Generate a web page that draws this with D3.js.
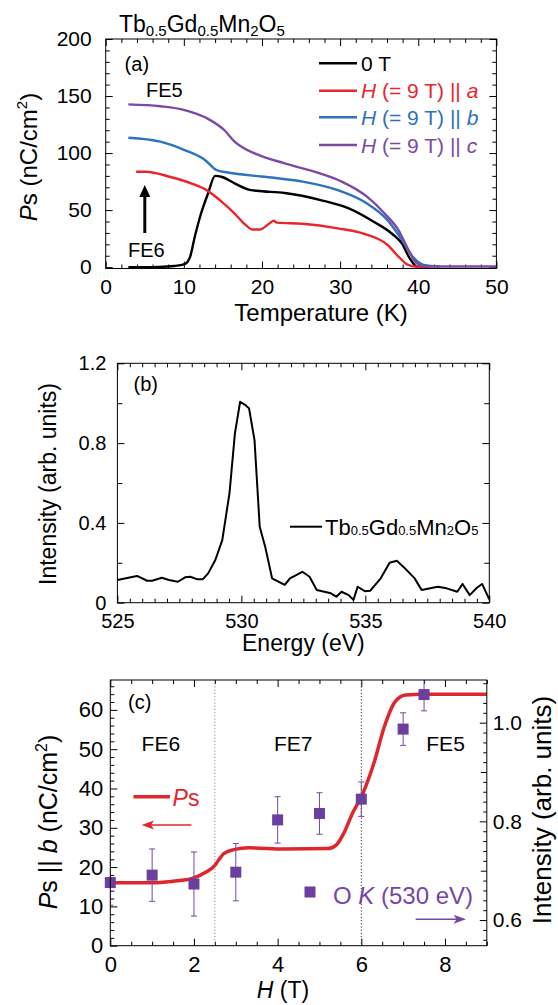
<!DOCTYPE html>
<html>
<head>
<meta charset="utf-8">
<script src="https://cdn.jsdelivr.net/npm/d3@7"></script>
<style>
  body { margin: 0; background: #fff; }
  svg { display: block; }
</style>
</head>
<body>
<svg id="fig"></svg>
<script>
const FONT = '"Liberation Sans", Arial, Helvetica, sans-serif';

// ---------- (a) Ps vs temperature ----------
const tempZero = [2.9, 6, 8.8, 10.1, 10.8, 11.4, 12.2, 13.1, 14.0, 14.9, 16.5, 18.3, 19.3, 22.9, 27.5, 31.1, 34.3, 36.6, 37.9, 38.8, 39.8, 40.6];
const psZero   = [0, 0, 1, 2.6, 9, 26.6, 47, 64.6, 80, 79, 73.4, 68, 67, 65, 58.8, 51.5, 39.8, 29.5, 20.8, 9, 0.5, 0];
const tempA = [3.9, 5.1, 8.3, 11.1, 12.9, 14.9, 16.5, 17.9, 18.8, 19.7, 20.9, 21.5, 21.9, 25.2, 29.7, 32.9, 36.1, 37.5, 38.6, 39.8, 41.6];
const psA   = [83.6, 83.6, 79, 73, 67.5, 57, 47, 37, 33, 33, 38, 40.6, 39, 38, 34, 29.5, 19.3, 9, 2.3, 0.3, 0];
const tempB = [2.9, 7.0, 10.1, 12.7, 14.2, 15.6, 20.6, 25.2, 29.7, 33.4, 36.1, 37.9, 39.3, 40.7, 42.8];
const psB   = [113.4, 110, 102.6, 94, 85, 83, 79, 75, 67.5, 56, 41, 24, 9, 2, 0.5];
const tempC = [2.9, 7.0, 10.1, 13.1, 15.2, 16.5, 19.3, 22.9, 27.5, 30.2, 33.4, 35.7, 37.5, 38.6, 39.8, 41.1, 50];
const psC   = [142.7, 141, 137.7, 130, 120, 110, 99, 91, 82, 75, 62, 47, 32, 17, 3.5, 0.5, 0.5];
const tempTicks = [0, 10, 20, 30, 40, 50];
const psTicks = [0, 50, 100, 150, 200];

// ---------- (b) O K-edge spectrum ----------
const energy = [525.0, 525.79, 526.2, 526.4, 526.79, 527.08, 527.44, 527.73, 527.94, 528.23, 528.44, 528.66, 528.95, 529.23, 529.52, 529.74, 529.95, 530.17, 530.31, 530.53, 530.74, 530.96, 531.24, 531.75, 531.96, 532.46, 532.75, 533.04, 533.61, 533.83, 534.04, 534.33, 534.52, 534.69, 534.98, 535.2, 535.62, 535.98, 536.27, 536.56, 536.99, 537.27, 537.92, 538.28, 538.71, 538.92, 539.21, 539.5, 539.71, 540.0];
const intensity = [0.114, 0.134, 0.110, 0.110, 0.125, 0.114, 0.105, 0.127, 0.130, 0.117, 0.117, 0.147, 0.214, 0.314, 0.548, 0.849, 1.007, 0.99, 0.974, 0.815, 0.381, 0.281, 0.122, 0.089, 0.122, 0.155, 0.13, 0.064, 0.047, 0.03, 0.055, 0.038, 0.014, 0.08, 0.058, 0.06, 0.122, 0.2, 0.21, 0.177, 0.122, 0.064, 0.08, 0.072, 0.055, 0.094, 0.038, 0.075, 0.094, 0.017];
const energyTicks = [525, 530, 535, 540];
const intTicks = [0, 0.4, 0.8, 1.2];

// ---------- (c) field dependence ----------
const fieldFit = [0, 1.02, 1.5, 1.96, 2.3, 2.47, 2.72, 2.98, 3.3, 4.17, 5.19, 5.4, 5.58, 5.79, 6.04, 6.3, 6.55, 6.81, 7.06, 7.5, 9];
const psFit    = [16, 16, 16.4, 17.1, 18.8, 20.1, 23.5, 24.5, 24.9, 24.6, 24.7, 25.6, 28.6, 33.7, 38.8, 46.4, 55.7, 62.1, 63.8, 64, 64];
const fieldOK = [0, 1, 2, 3, 4, 5, 6, 7, 7.5];
const intOK   = [0.676, 0.691, 0.673, 0.697, 0.803, 0.816, 0.845, 0.987, 1.057];
const errOK   = [0.046, 0.053, 0.065, 0.058, 0.047, 0.042, 0.035, 0.033, 0.033];
const phaseBounds = [2.5, 6];
const fieldTicks = [0, 2, 4, 6, 8];
const psFitTicks = [0, 10, 20, 30, 40, 50, 60];
const intOKTicks = [0.6, 0.8, 1.0];

const red = '#e8262b', blue = '#2c73bf', purple = '#7a4aa5';
const redC = '#e0262d', purpleC = '#6b3fa0', purpleText = '#7646a6';

const svg = d3.select('#fig').attr('width', 558).attr('height', 1005)
  .attr('font-family', FONT);

function steps(a, b, step) {
  const n = Math.round((b - a) / step);
  return d3.range(n + 1).map(i => +(a + i * step).toFixed(6));
}

function tickSet(g, gen, values, size, at, fmt, fs, pad) {
  const ax = g.append('g').attr('transform', at)
    .call(gen.tickValues(values).tickSize(-size).tickPadding(pad || 3)
      .tickFormat(fmt || (() => '')));
  ax.select('.domain').remove();
  ax.attr('font-family', FONT).attr('font-size', fs || 10);
  ax.selectAll('text').attr('fill', '#000');
  ax.selectAll('line').attr('stroke', '#000');
  return ax;
}

function frame(g, x, y) {
  const [l, r] = x.range(), [b, t] = y.range();
  g.append('rect').attr('x', l).attr('y', t).attr('width', r - l).attr('height', b - t)
    .attr('fill', 'none').attr('stroke', '#000').attr('stroke-width', 1);
}

function clip(id, x, y) {
  const [l, r] = x.range(), [b, t] = y.range();
  svg.append('clipPath').attr('id', id).append('rect')
    .attr('x', l).attr('y', t).attr('width', r - l).attr('height', b - t);
}

// ===================== panel (a) =====================
const xA = d3.scaleLinear().domain([0, 50]).range([105.7, 496.4]);
const yA = d3.scaleLinear().domain([-1.2, 200]).range([268.5, 39]);
const gA = svg.append('g');

tickSet(gA, d3.axisBottom(xA), tempTicks, 7, `translate(0,${yA.range()[0]})`, d3.format('d'), 21, 11);
tickSet(gA, d3.axisBottom(xA), steps(0, 50, 2).filter(v => v % 10), 4, `translate(0,${yA.range()[0]})`);
tickSet(gA, d3.axisTop(xA), tempTicks, 7, `translate(0,${yA.range()[1]})`);
tickSet(gA, d3.axisTop(xA), steps(0, 50, 2).filter(v => v % 10), 4, `translate(0,${yA.range()[1]})`);
tickSet(gA, d3.axisLeft(yA), psTicks, 7, `translate(${xA.range()[0]},0)`, d3.format('d'), 21, 14);
tickSet(gA, d3.axisLeft(yA), steps(0, 200, 10).filter(v => v % 50), 4, `translate(${xA.range()[0]},0)`);
tickSet(gA, d3.axisRight(yA), psTicks, 7, `translate(${xA.range()[1]},0)`);
tickSet(gA, d3.axisRight(yA), steps(0, 200, 10).filter(v => v % 50), 4, `translate(${xA.range()[1]},0)`);

clip('clipA', xA, yA);
const lineA = d3.line().x(d => xA(d[0])).y(d => yA(d[1])).curve(d3.curveMonotoneX);
const seriesA = [
  { t: tempZero, p: psZero, color: '#000' },
  { t: tempA, p: psA, color: red },
  { t: tempB, p: psB, color: blue },
  { t: tempC, p: psC, color: purple }
];
gA.append('g').attr('clip-path', 'url(#clipA)').selectAll('path').data(seriesA).join('path')
  .attr('d', s => lineA(d3.zip(s.t, s.p)))
  .attr('fill', 'none').attr('stroke', s => s.color).attr('stroke-width', 2.4)
  .attr('stroke-linejoin', 'round');
frame(gA, xA, yA);

// legend (a)
const legA = [
  { axis: null, color: '#000', y: 63.3 },
  { axis: 'a', color: red, y: 90.7 },
  { axis: 'b', color: blue, y: 117.3 },
  { axis: 'c', color: purple, y: 145 }
];
legA.forEach(d => {
  gA.append('line').attr('x1', 319).attr('x2', 357).attr('y1', d.y).attr('y2', d.y)
    .attr('stroke', d.color).attr('stroke-width', 2.4);
  const t = gA.append('text').attr('x', 361).attr('y', d.y + 7.5)
    .attr('font-size', 21).attr('fill', d.color);
  if (d.axis === null) { t.text('0 T'); return; }
  t.append('tspan').attr('font-style', 'italic').text('H');
  t.append('tspan').text(' (= 9 T) || ');
  t.append('tspan').attr('font-style', 'italic').text(d.axis);
});

// title and annotations (a)
const title = svg.append('text').attr('x', 119).attr('y', 31.7).attr('font-size', 23);
[['Tb', 0], ['0.5', 1], ['Gd', 0], ['0.5', 1], ['Mn', 0], ['2', 1], ['O', 0], ['5', 1]].forEach(([s, sub], i, arr) => {
  const prev = i > 0 ? arr[i - 1][1] : 0;
  title.append('tspan').attr('font-size', sub ? 15 : 23)
    .attr('dy', sub && !prev ? 4 : (!sub && prev ? -4 : 0)).text(s);
});
gA.append('text').attr('x', 124.6).attr('y', 71).attr('font-size', 20).text('(a)');
gA.append('text').attr('x', 146).attr('y', 97).attr('font-size', 20).text('FE5');
gA.append('text').attr('x', 128).attr('y', 257).attr('font-size', 20).text('FE6');
gA.append('line').attr('x1', 144.8).attr('x2', 144.8).attr('y1', 233).attr('y2', 194)
  .attr('stroke', '#000').attr('stroke-width', 3);
gA.append('path').attr('d', 'M144.8,185 L150.3,197 L139.3,197 Z').attr('fill', '#000');

gA.append('text').attr('x', 321).attr('y', 320.5).attr('text-anchor', 'middle')
  .attr('font-size', 24).text('Temperature (K)');
const ylA = gA.append('text').attr('transform', 'translate(37,157) rotate(-90)')
  .attr('text-anchor', 'middle').attr('font-size', 24);
ylA.append('tspan').attr('font-style', 'italic').text('P');
ylA.append('tspan').text('s (nC/cm');
ylA.append('tspan').attr('font-size', 15).attr('dy', -10).text('2');
ylA.append('tspan').attr('dy', 10).text(')');

// ===================== panel (b) =====================
const xB = d3.scaleLinear().domain([525, 540]).range([117.4, 489.3]);
const yB = d3.scaleLinear().domain([0, 1.2]).range([602.7, 363.3]);
const gB = svg.append('g');
const fmtB = d => d === 0 ? '0' : d3.format('.1f')(d);

tickSet(gB, d3.axisBottom(xB), energyTicks, 7, `translate(0,${yB.range()[0]})`, d3.format('d'), 20, 11);
tickSet(gB, d3.axisBottom(xB), steps(525, 540, 0.5).filter(v => v % 5), 4, `translate(0,${yB.range()[0]})`);
tickSet(gB, d3.axisTop(xB), energyTicks, 7, `translate(0,${yB.range()[1]})`);
tickSet(gB, d3.axisTop(xB), steps(525, 540, 0.5).filter(v => v % 5), 4, `translate(0,${yB.range()[1]})`);
tickSet(gB, d3.axisLeft(yB), intTicks, 7, `translate(${xB.range()[0]},0)`, fmtB, 20, 11);
tickSet(gB, d3.axisLeft(yB), [0.2, 0.6, 1.0], 5, `translate(${xB.range()[0]},0)`);
tickSet(gB, d3.axisRight(yB), intTicks, 7, `translate(${xB.range()[1]},0)`);
tickSet(gB, d3.axisRight(yB), [0.2, 0.6, 1.0], 5, `translate(${xB.range()[1]},0)`);

const lineB = d3.line().x(d => xB(d[0])).y(d => yB(d[1]));
gB.append('path').datum(d3.zip(energy, intensity)).attr('d', lineB)
  .attr('fill', 'none').attr('stroke', '#000').attr('stroke-width', 2).attr('stroke-linejoin', 'round');
frame(gB, xB, yB);

gB.append('text').attr('x', 133.5).attr('y', 391).attr('font-size', 20).text('(b)');
gB.append('line').attr('x1', 290).attr('x2', 322).attr('y1', 526.7).attr('y2', 526.7)
  .attr('stroke', '#000').attr('stroke-width', 2);
const legB = gB.append('text').attr('x', 325).attr('y', 534.5).attr('font-size', 22);
[['Tb', 0], ['0.5', 1], ['Gd', 0], ['0.5', 1], ['Mn', 0], ['2', 1], ['O', 0], ['5', 1]].forEach(([s, sub]) => {
  legB.append('tspan').attr('font-size', sub ? 13 : 22).text(s);
});
gB.append('text').attr('x', 303.4).attr('y', 651).attr('text-anchor', 'middle')
  .attr('font-size', 23).text('Energy (eV)');
gB.append('text').attr('transform', 'translate(56,484) rotate(-90)')
  .attr('text-anchor', 'middle').attr('font-size', 23).text('Intensity (arb. units)');

// ===================== panel (c) =====================
const xC = d3.scaleLinear().domain([0, 9]).range([110.3, 486.8]);
const yCL = d3.scaleLinear().domain([0, 67.6]).range([945.7, 680]);
const yCR = d3.scaleLinear().domain([0.548, 1.0865]).range([945.7, 680]);
const gC = svg.append('g');

tickSet(gC, d3.axisBottom(xC), fieldTicks, 7, `translate(0,${yCL.range()[0]})`, d3.format('d'), 22, 11);
tickSet(gC, d3.axisBottom(xC), steps(0, 9, 0.5).filter(v => v % 2), 4, `translate(0,${yCL.range()[0]})`);
tickSet(gC, d3.axisTop(xC), fieldTicks, 7, `translate(0,${yCL.range()[1]})`);
tickSet(gC, d3.axisTop(xC), steps(0, 9, 0.5).filter(v => v % 2), 4, `translate(0,${yCL.range()[1]})`);
tickSet(gC, d3.axisLeft(yCL), psFitTicks, 7, `translate(${xC.range()[0]},0)`, d3.format('d'), 22, 7);
tickSet(gC, d3.axisLeft(yCL), steps(0, 66, 2).filter(v => v % 10), 4, `translate(${xC.range()[0]},0)`);
tickSet(gC, d3.axisRight(yCR), intOKTicks, 7, `translate(${xC.range()[1]},0)`, d3.format('.1f'), 21, 6);
tickSet(gC, d3.axisRight(yCR), [0.7, 0.9], 6, `translate(${xC.range()[1]},0)`);
tickSet(gC, d3.axisRight(yCR), steps(0.56, 1.08, 0.02).filter(v => Math.abs(v * 10 - Math.round(v * 10)) > 1e-6), 3.5, `translate(${xC.range()[1]},0)`);

// phase boundaries
gC.selectAll('line.bound').data(phaseBounds).join('line').attr('class', 'bound')
  .attr('x1', d => xC(d)).attr('x2', d => xC(d))
  .attr('y1', yCL.range()[1]).attr('y2', yCL.range()[0])
  .attr('stroke', (d, i) => i === 0 ? '#888' : '#333').attr('stroke-width', 1)
  .attr('stroke-dasharray', '1.2,2');

clip('clipC', xC, yCL);
const lineC = d3.line().x(d => xC(d[0])).y(d => yCL(d[1])).curve(d3.curveMonotoneX);
gC.append('path').datum(d3.zip(fieldFit, psFit)).attr('d', lineC).attr('clip-path', 'url(#clipC)')
  .attr('fill', 'none').attr('stroke', redC).attr('stroke-width', 3.5);

// O K intensity with error bars
const pts = d3.zip(fieldOK, intOK, errOK);
const gErr = gC.append('g').attr('clip-path', 'url(#clipC)')
  .attr('stroke', purpleText).attr('stroke-width', 1);
gErr.selectAll('line.bar').data(pts).join('line').attr('class', 'bar')
  .attr('x1', d => xC(d[0])).attr('x2', d => xC(d[0]))
  .attr('y1', d => yCR(d[1] - d[2])).attr('y2', d => yCR(d[1] + d[2]));
gErr.selectAll('line.capT').data(pts).join('line').attr('class', 'capT')
  .attr('x1', d => xC(d[0]) - 3).attr('x2', d => xC(d[0]) + 3)
  .attr('y1', d => yCR(d[1] + d[2])).attr('y2', d => yCR(d[1] + d[2]));
gErr.selectAll('line.capB').data(pts).join('line').attr('class', 'capB')
  .attr('x1', d => xC(d[0]) - 3).attr('x2', d => xC(d[0]) + 3)
  .attr('y1', d => yCR(d[1] - d[2])).attr('y2', d => yCR(d[1] - d[2]));
gC.selectAll('rect.sq').data(pts).join('rect').attr('class', 'sq')
  .attr('x', d => xC(d[0]) - 5.5).attr('y', d => yCR(d[1]) - 5.5)
  .attr('width', 11).attr('height', 11).attr('fill', purpleC);
frame(gC, xC, yCL);

// annotations (c)
gC.append('text').attr('x', 128).attr('y', 709).attr('font-size', 20).text('(c)');
[['FE6', 141.6], ['FE7', 274], ['FE5', 426.3]].forEach(([s, x]) => {
  gC.append('text').attr('x', x).attr('y', 750.5).attr('font-size', 21).text(s);
});
gC.append('line').attr('x1', 133.5).attr('x2', 170).attr('y1', 796.7).attr('y2', 796.7)
  .attr('stroke', redC).attr('stroke-width', 3.5);
const psLab = gC.append('text').attr('x', 172.6).attr('y', 806).attr('font-size', 23).attr('fill', redC);
psLab.append('tspan').attr('font-style', 'italic').text('P');
psLab.append('tspan').text('s');
gC.append('line').attr('x1', 191.5).attr('x2', 146).attr('y1', 825).attr('y2', 825)
  .attr('stroke', redC).attr('stroke-width', 1.6);
gC.append('path').attr('d', 'M141.6,825 L154,820.5 L151,825 L154,829.5 Z').attr('fill', redC);

gC.append('rect').attr('x', 304.5).attr('y', 886.5).attr('width', 11).attr('height', 11).attr('fill', purpleC);
const okLab = gC.append('text').attr('x', 333).attr('y', 904).attr('font-size', 24).attr('fill', purpleText);
okLab.append('tspan').text('O ');
okLab.append('tspan').attr('font-style', 'italic').text('K');
okLab.append('tspan').text(' (530 eV)');
gC.append('line').attr('x1', 415.7).attr('x2', 461).attr('y1', 919.3).attr('y2', 919.3)
  .attr('stroke', purpleText).attr('stroke-width', 1.6);
gC.append('path').attr('d', 'M466,919.3 L453.6,914.8 L456.6,919.3 L453.6,923.8 Z').attr('fill', purpleText);

const xlC = gC.append('text').attr('x', 283).attr('y', 998).attr('text-anchor', 'middle').attr('font-size', 23);
xlC.append('tspan').attr('font-style', 'italic').text('H');
xlC.append('tspan').text(' (T)');
const ylC = gC.append('text').attr('transform', 'translate(57,822) rotate(-90)')
  .attr('text-anchor', 'middle').attr('font-size', 25);
ylC.append('tspan').attr('font-style', 'italic').text('P');
ylC.append('tspan').text('s || ');
ylC.append('tspan').attr('font-style', 'italic').text('b');
ylC.append('tspan').text(' (nC/cm');
ylC.append('tspan').attr('font-size', 16).attr('dy', -10).text('2');
ylC.append('tspan').attr('dy', 10).text(')');
gC.append('text').attr('transform', 'translate(551,810) rotate(-90)')
  .attr('text-anchor', 'middle').attr('font-size', 26).text('Intensity (arb. units)');
</script>
</body>
</html>
